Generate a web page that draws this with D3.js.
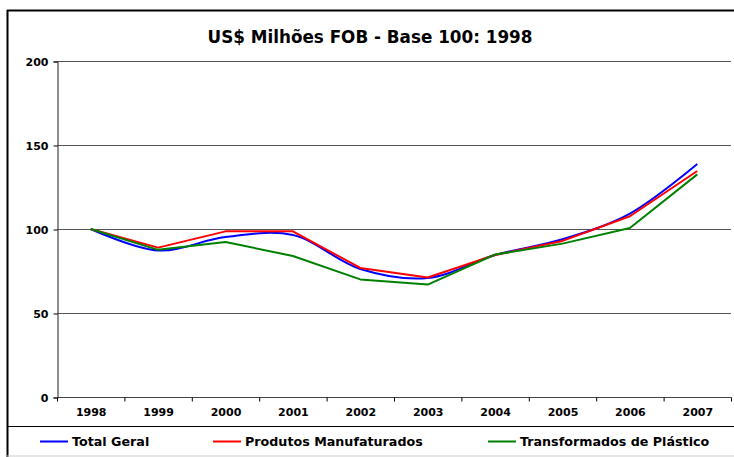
<!DOCTYPE html>
<html>
<head>
<meta charset="utf-8">
<script src="https://cdn.jsdelivr.net/npm/d3@7"></script>
<style>
  body { margin: 0; background: #fff; }
  svg text { font-family: "DejaVu Sans", Verdana, sans-serif; font-weight: bold; fill: #000; }
</style>
</head>
<body>
<div id="chart"></div>
<script>
const width = 734;
const height = 457;

// dados
const years = ["1998", "1999", "2000", "2001", "2002", "2003", "2004", "2005", "2006", "2007"];
const totalGeral = [100, 87.2, 95.2, 96.4, 76.2, 70.8, 84.5, 93.9, 109.2, 138.7];
const produtosManufaturados = [100, 88.9, 98.6, 98.6, 76.8, 71.1, 84.5, 92.9, 107.6, 134.5];
const transformadosPlastico = [100, 87.6, 92.3, 83.9, 70.0, 66.9, 84.8, 91.3, 100.6, 132.5];
const yTicks = [0, 50, 100, 150, 200];
const titleText = "US$ Milhões FOB - Base 100: 1998";

const series = [
  { name: "Total Geral", values: totalGeral, color: "#0000ff", curve: d3.curveCatmullRom.alpha(0.5) },
  { name: "Produtos Manufaturados", values: produtosManufaturados, color: "#ff0000", curve: d3.curveLinear },
  { name: "Transformados de Plástico", values: transformadosPlastico, color: "#008000", curve: d3.curveLinear },
];

const plot = { left: 57, right: 731, top: 61, bottom: 397 };

const svg = d3.select("#chart").append("svg")
  .attr("width", width)
  .attr("height", height);

// moldura
svg.append("line").attr("x1", 7).attr("x2", width).attr("y1", 10.5).attr("y2", 10.5)
  .attr("stroke", "#000").attr("stroke-width", 2);
svg.append("line").attr("x1", 7.5).attr("x2", 7.5).attr("y1", 10).attr("y2", height)
  .attr("stroke", "#000").attr("stroke-width", 2);
svg.append("line").attr("x1", 7).attr("x2", width).attr("y1", 426.5).attr("y2", 426.5)
  .attr("stroke", "#000").attr("stroke-width", 1.2);
svg.append("line").attr("x1", 7).attr("x2", width).attr("y1", 456).attr("y2", 456)
  .attr("stroke", "#ccc").attr("stroke-width", 1);

// título
svg.append("text")
  .attr("x", 370)
  .attr("y", 43)
  .attr("text-anchor", "middle")
  .style("font-size", "16.8px")
  .text(titleText);

const x = d3.scaleBand().domain(years).range([plot.left, plot.right]);
const y = d3.scaleLinear().domain([0, 200]).range([plot.bottom, plot.top]);

// grade
svg.append("g")
  .selectAll("line")
  .data(yTicks.filter((d) => d > 0))
  .join("line")
  .attr("x1", plot.left)
  .attr("x2", plot.right)
  .attr("y1", (d) => Math.round(y(d)) + 0.5)
  .attr("y2", (d) => Math.round(y(d)) + 0.5)
  .attr("stroke", "#555")
  .attr("stroke-width", 1.2);

// eixo y
const yAxis = svg.append("g")
  .attr("transform", `translate(${plot.left + 0.5},0.5)`)
  .call(d3.axisLeft(y).tickValues(yTicks).tickSize(4).tickPadding(5));
yAxis.selectAll("text").style("font-size", "11px");

// eixo x
const xAxis = svg.append("g")
  .attr("transform", `translate(0.5,${plot.bottom + 0.5})`)
  .call(d3.axisBottom(x).tickSize(0).tickPadding(11));
xAxis.selectAll("text").style("font-size", "11px");
xAxis.selectAll(".tick line").remove();
xAxis.select(".domain").attr("d", `M${plot.left},0H${plot.right}`);
xAxis.selectAll(".bound")
  .data(years.map((d) => x(d)).concat([plot.right]))
  .join("line")
  .attr("x1", (d) => d).attr("x2", (d) => d)
  .attr("y1", 0).attr("y2", 4)
  .attr("stroke", "#000");
svg.selectAll(".domain").attr("stroke", "#444").attr("stroke-width", 1.2);

// linhas
const line = (s) => d3.line()
  .x((d, i) => x(years[i]) + x.bandwidth() / 2)
  .y((d) => y(d))
  .curve(s.curve);

svg.append("g")
  .selectAll("path")
  .data(series)
  .join("path")
  .attr("fill", "none")
  .attr("stroke", (d) => d.color)
  .attr("stroke-width", 2)
  .attr("stroke-linejoin", "round")
  .attr("d", (d) => line(d)(d.values));

// legenda
const legendX = [40, 213, 488];
const legend = svg.append("g")
  .selectAll("g")
  .data(series)
  .join("g")
  .attr("transform", (d, i) => `translate(${legendX[i]},441.5)`);
legend.append("line")
  .attr("x1", 0).attr("x2", 28)
  .attr("stroke", (d) => d.color)
  .attr("stroke-width", 2);
legend.append("text")
  .attr("x", 32)
  .attr("dy", "0.36em")
  .style("font-size", "12.7px")
  .text((d) => d.name);
</script>
</body>
</html>
